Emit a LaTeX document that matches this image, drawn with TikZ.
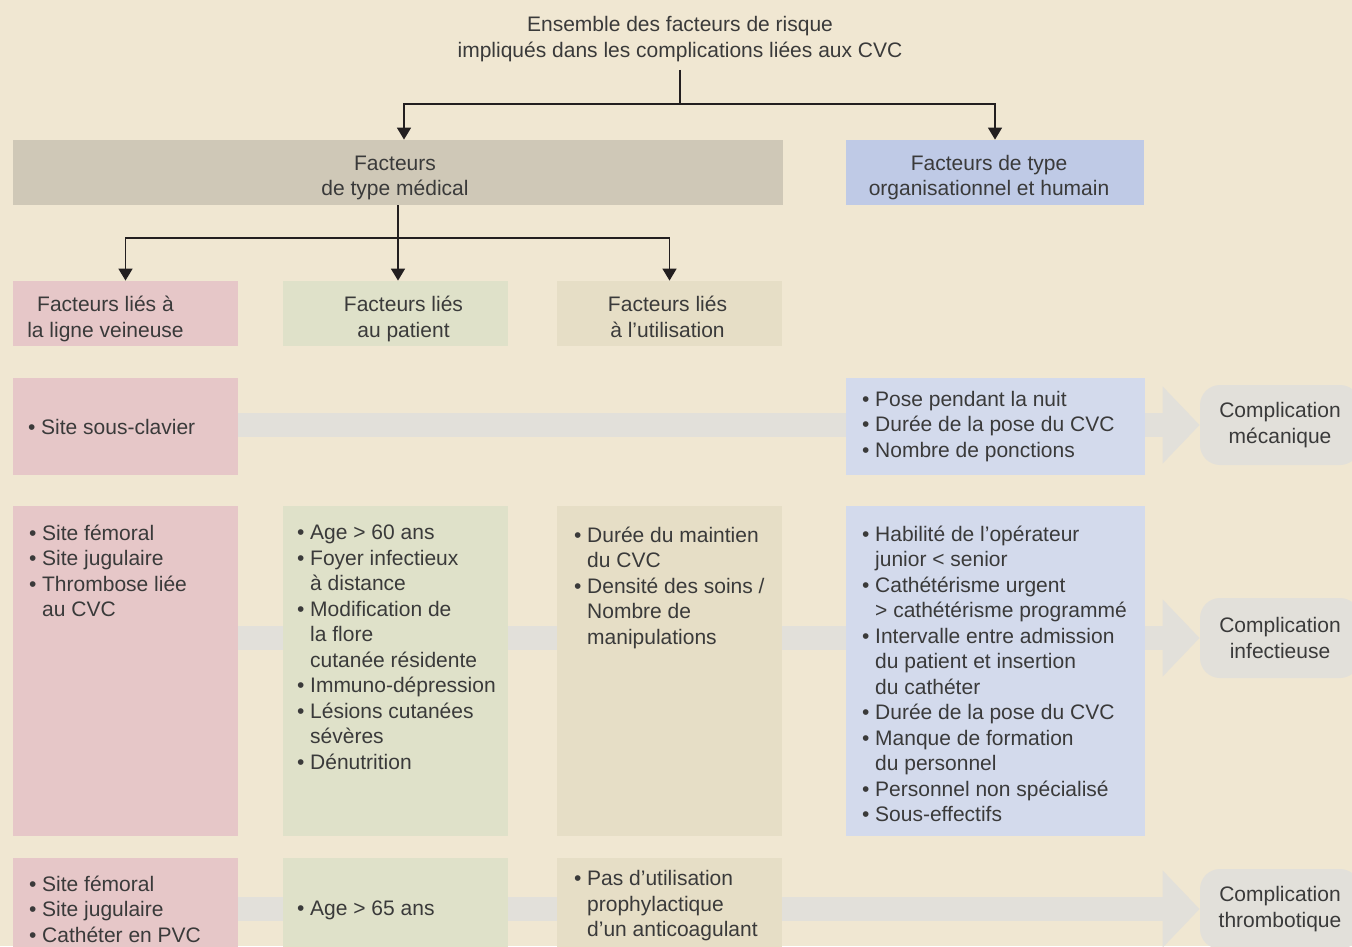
\documentclass[tikz,border=0pt]{standalone}
\usepackage{fontspec}
\setmainfont{Liberation Sans}
\usetikzlibrary{arrows.meta,backgrounds}

\definecolor{creme}{HTML}{F0E7D2}
\definecolor{beige}{HTML}{CFC8B7}
\definecolor{bleu}{HTML}{BFCAE6}
\definecolor{bleuclair}{HTML}{D3DAEC}
\definecolor{rose}{HTML}{E6C7C8}
\definecolor{vert}{HTML}{DFE1C9}
\definecolor{sable}{HTML}{E6DEC6}
\definecolor{gris}{HTML}{E2E0DA}
\definecolor{encre}{HTML}{3A3A3A}
\definecolor{trait}{HTML}{231F20}

\newcommand{\corps}{\fontsize{10.5}{12.75}\selectfont}
\newcommand{\puce}{\textbullet\ }
\newcommand{\suite}{\phantom{\textbullet\ }}

\tikzset{
  bloc/.style={rectangle, inner sep=0pt, align=center, text=encre, font=\corps},
  etiquette/.style={bloc, text height=23.5pt, text depth=0pt},
  famille/.style={bloc, minimum width=112.5pt, minimum height=32.5pt},
  liste/.style={inner sep=0pt, align=left, text=encre, font=\corps},
  issue/.style={bloc, fill=gris, rounded corners=10pt, minimum width=80pt, minimum height=40pt},
  lien/.style={draw=trait, line width=0.8pt},
  bande/.style={line width=12pt, draw=gris, -{Triangle[length=18.5pt,width=37.5pt]}},
}

\begin{document}
\begin{tikzpicture}[x=0.5pt,y=-0.5pt,>={Triangle[length=6pt,width=7pt]}]
  \useasboundingbox (0,0) rectangle (1352,946);
  % en-tete
  \node[bloc, inner sep=4pt] (titre) at (680,39) {Ensemble des facteurs de risque\\impliqués dans les complications liées aux CVC};
  \node[bloc, fill=beige, minimum width=385pt, minimum height=32.5pt] (medical) at (398,172.5) {};
  \node[bloc, fill=bleu, minimum width=149pt, minimum height=32.5pt] (orga) at (995,172.5) {};
  \node[etiquette] (tmedical) at ([xshift=-1.5pt]medical.center) {Facteurs\\de type médical};
  \node[etiquette] (torga) at ([xshift=-3pt]orga.center) {Facteurs de type\\organisationnel et humain};
  \node[famille, fill=rose] (veine) at (125.5,313.5) {};
  \node[famille, fill=vert] (patient) at (395.5,313.5) {};
  \node[famille, fill=sable] (usage) at (669.5,313.5) {};
  \node[etiquette] (tveine) at ([xshift=-10pt]veine.center) {Facteurs liés à\\la ligne veineuse};
  \node[etiquette] (tpatient) at ([xshift=4pt]patient.center) {Facteurs liés\\au patient};
  \node[etiquette] (tusage) at ([xshift=-1pt]usage.center) {Facteurs liés\\à l’utilisation};

  % rangee mecanique
  \node[bloc, fill=rose, minimum width=112.5pt, minimum height=48.5pt] (veineA) at (125.5,426.5) {};
  \node[bloc, fill=bleuclair, minimum width=149.5pt, minimum height=48.5pt] (orgaA) at (995.5,426.5) {};
  \node[liste, anchor=west] (tveineA) at ([xshift=7.5pt]veineA.west) {\puce Site sous-clavier};
  \node[liste, anchor=west] (torgaA) at ([xshift=8pt]orgaA.west) {\puce Pose pendant la nuit\\\puce Durée de la pose du CVC\\\puce Nombre de ponctions};
  \node[issue] (meca) at (1280,425) {Complication\\mécanique};

  % rangee infectieuse
  \node[bloc, fill=rose, minimum width=112.5pt, minimum height=165pt] (veineB) at (125.5,671) {};
  \node[bloc, fill=vert, minimum width=112.5pt, minimum height=165pt] (patientB) at (395.5,671) {};
  \node[bloc, fill=sable, minimum width=112.5pt, minimum height=165pt] (usageB) at (669.5,671) {};
  \node[bloc, fill=bleuclair, minimum width=149.5pt, minimum height=165pt] (orgaB) at (995.5,671) {};
  \node[liste, anchor=north west] (tveineB) at ([xshift=8pt,yshift=-9.5pt]veineB.north west)
    {\puce Site fémoral\\\puce Site jugulaire\\\puce Thrombose liée\\\suite au CVC};
  \node[liste, anchor=north west] (tpatientB) at ([xshift=7pt,yshift=-9.5pt]patientB.north west)
    {\puce Age > 60 ans\\\puce Foyer infectieux\\\suite à distance\\\puce Modification de\\\suite la flore\\\suite cutanée résidente\\\puce Immuno-dépression\\\puce Lésions cutanées\\\suite sévères\\\puce Dénutrition};
  \node[liste, anchor=north west] (tusageB) at ([xshift=8.5pt,yshift=-10.5pt]usageB.north west)
    {\puce Durée du maintien\\\suite du CVC\\\puce Densité des soins /\\\suite Nombre de\\\suite manipulations};
  \node[liste, anchor=north west] (torgaB) at ([xshift=8pt,yshift=-10pt]orgaB.north west)
    {\puce Habilité de l’opérateur\\\suite junior < senior\\\puce Cathétérisme urgent\\\suite > cathétérisme programmé\\\puce Intervalle entre admission\\\suite du patient et insertion\\\suite du cathéter\\\puce Durée de la pose du CVC\\\puce Manque de formation\\\suite du personnel\\\puce Personnel non spécialisé\\\puce Sous-effectifs};
  \node[issue] (infect) at (1280,638) {Complication\\infectieuse};

  % rangee thrombotique
  \node[bloc, fill=rose, minimum width=112.5pt, minimum height=50pt] (veineC) at (125.5,908) {};
  \node[bloc, fill=vert, minimum width=112.5pt, minimum height=50pt] (patientC) at (395.5,908) {};
  \node[bloc, fill=sable, minimum width=112.5pt, minimum height=50pt] (usageC) at (669.5,908) {};
  \node[liste, anchor=west] (tveineC) at ([xshift=8pt,yshift=-0.5pt]veineC.west) {\puce Site fémoral\\\puce Site jugulaire\\\puce Cathéter en PVC};
  \node[liste, anchor=west] (tpatientC) at ([xshift=7pt,yshift=-1pt]patientC.west) {\puce Age > 65 ans};
  \node[liste, anchor=west] (tusageC) at ([xshift=8.5pt,yshift=1pt]usageC.west) {\puce Pas d’utilisation\\\suite prophylactique\\\suite d’un anticoagulant};
  \node[issue] (thrombo) at (1280,909) {Complication\\thrombotique};

  % fond et bandes
  \begin{pgfonlayer}{background}
    \fill[creme] (0,0) rectangle (1352,946);
    \draw[bande] (veineA.center |- meca.west) -- (meca.west);
    \draw[bande] (veineB.center |- infect.west) -- (infect.west);
    \draw[bande] (veineC.center |- thrombo.west) -- (thrombo.west);
  \end{pgfonlayer}

  % liens
  \coordinate (noeud) at (680,104);
  \coordinate (fourche) at (398,238);
  \draw[lien] (titre.south) -- (noeud);
  \draw[lien,->] (noeud) -| ([xshift=3pt]medical.north);
  \draw[lien,->] (noeud) -| (orga.north);
  \draw[lien,->] (medical.south) -- (medical.south |- patient.north);
  \draw[lien,->] (fourche) -| (veine.north);
  \draw[lien,->] (fourche) -| (usage.north);
\end{tikzpicture}
\end{document}
